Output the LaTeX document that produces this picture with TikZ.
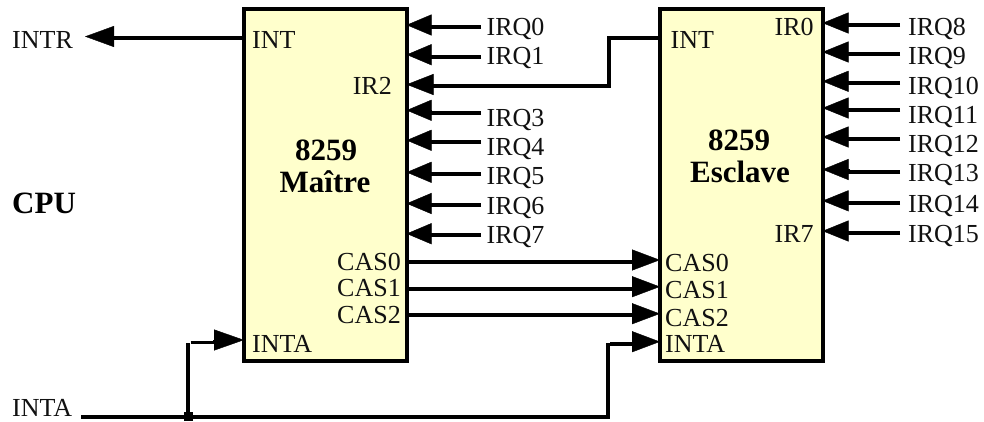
\documentclass[tikz,border=0pt]{standalone}
\usepackage{fontspec}
\setmainfont{Liberation Serif}
\usetikzlibrary{arrows.meta}
\definecolor{chipfill}{HTML}{FFFFCC}
\definecolor{ink}{HTML}{111111}
\tikzset{
  chip/.style={draw=black,fill=chipfill,line width=4pt,outer sep=0pt,inner sep=0pt,minimum width=162.5pt,minimum height=352pt},
  lbl/.style={anchor=base west,inner sep=0pt,text=ink,font=\fontsize{26}{26}\selectfont},
  lblr/.style={anchor=base east,inner sep=0pt,text=ink,font=\fontsize{26}{26}\selectfont},
  inq/.style={lbl,inner xsep=5.5pt},
  insl/.style={lbl,inner xsep=8pt},
  heavy/.style={anchor=base,inner sep=0pt,text=black,font=\fontsize{31}{31}\selectfont\bfseries},
  wire/.style={draw=black,line width=4pt,line join=miter},
  head/.style={draw=black,line width=.4pt,-{Triangle[length=#1pt,width=21pt]}},
  dotj/.style={draw=none,fill=black,minimum size=9pt,inner sep=0pt,outer sep=0pt}
}
\begin{document}
\begin{tikzpicture}[x=1pt,y=-1pt]
\useasboundingbox (0,0) rectangle (984,421);
% chips
\node[chip] (master) at (325.25,185) {};
\node[chip] (slave) at (741.25,185) {};
% chip titles
\node[heavy] (mt1) at (326,160) {8259};
\node[heavy] (mt2) at (325,192) {Maître};
\node[heavy] (st1) at (739,150) {8259};
\node[heavy] (st2) at (740,182) {Esclave};
% CPU side labels
\node[lbl] (intr) at (12,48) {INTR};
\node[heavy,anchor=base west] (cpu) at (12,213) {CPU};
\node[lbl,inner xsep=0pt] (inta) at (12,416) {INTA};
% master pin labels
\node[lbl] (mint) at (252,48) {INT};
\node[lbl] (minta) at (252,352) {INTA};
\node[lblr] (mir2) at (392,94) {IR2};
\node[lbl] (mcas0) at (337,270) {CAS0};
\node[lbl] (mcas1) at (337,296) {CAS1};
\node[lbl] (mcas2) at (337,323) {CAS2};
% slave pin labels
\node[lbl] (sint) at (670.5,48) {INT};
\node[lbl] (sir0) at (774.5,35) {IR0};
\node[lbl] (sir7) at (774.5,242.7) {IR7};
\node[lbl] (scas0) at (665,271.7) {CAS0};
\node[lbl] (scas1) at (665,298.7) {CAS1};
\node[lbl] (scas2) at (665,326) {CAS2};
\node[lbl] (sinta) at (665,352) {INTA};
% master IRQ inputs: number / label baseline / shaft y / head y
\foreach \n/\b/\ys/\yh in {0/35/27.3/25,1/64/56.7/54.7,3/126/113/110.3,4/155/142/140.3,5/184/174/172.3,6/214/205/203.5,7/243/235/233.7}{
  \node[inq] (q\n) at (481,\b) {IRQ\n};
  \draw[wire] (q\n.west |- 0,\ys) -- (428,\ys);
  \draw[head=25] (432,\yh) -- (master.east |- 0,\yh);
}
% slave IRQ inputs
\foreach \n/\b/\ys/\yh in {8/35/25/23,9/64/54/52,10/94.3/83.3/81.3,11/123/110/108,12/152/139.3/137,13/181.7/171.7/169.5,14/212/203.3/200.8,15/242.7/232.7/231}{
  \node[insl] (q\n) at (900,\b) {IRQ\n};
  \draw[wire] (q\n.west |- 0,\ys) -- (848,\ys);
  \draw[head=26] (850,\yh) -- (slave.east |- 0,\yh);
}
% INT master to CPU
\draw[wire] (master.west |- 0,38.3) -- (110,38.3);
\draw[head=29] (115,36.5) -- (85,36.5);
% INT slave to IR2
\draw[wire,line width=3.5pt] (slave.west |- 0,38) -- (609,38) -- (609,86) -- (430,86);
\draw[head=27] (434,84.5) -- (master.east |- 0,84.5);
% cascade lines
\draw[wire,line width=3.5pt] (master.east |- 0,262) ++(2.5,0) -- (633,262);
\draw[head=28] (632,260) -- (slave.west |- 0,260);
\draw[wire] (master.east |- 0,288.7) ++(2.5,0) -- (633,288.7);
\draw[head=28] (632,286.7) -- (slave.west |- 0,286.7);
\draw[wire,line width=3.5pt] (master.east |- 0,315) ++(2.5,0) -- (633,315);
\draw[head=28] (632,313.7) -- (slave.west |- 0,313.7);
% INTA bus
\coordinate (busstart) at (81,416.7);
\node[dotj] (junction) at (188,416.7) {};
\draw[wire] (busstart) -- (junction) -- (608,416.7) -- (608,343);
\draw[wire,line width=3.5pt] (610,344) -- (633,344);
\draw[head=28] (632,341.7) -- (slave.west |- 0,341.7);
\draw[wire] (junction) -- (188,342.7);
\draw[wire,line width=3.5pt] (190.5,342.3) -- (214,342.3);
\draw[head=30] (213,340) -- (master.west |- 0,340);
\end{tikzpicture}
\end{document}
